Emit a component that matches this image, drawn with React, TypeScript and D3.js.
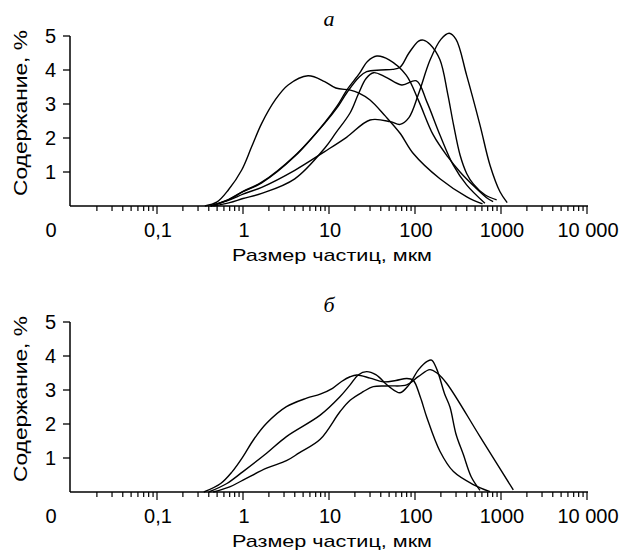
import React, { useEffect, useRef } from "react";
import * as d3 from "d3";

// particle size axis (мкм), log scale
const xDomain = [0.01, 10000];
const xTickValues = [0.01, 0.1, 1, 10, 100, 1000, 10000];
const xTickLabels = ["0", "0,1", "1", "10", "100", "1000", "10 000"];
const yTickValues = [1, 2, 3, 4, 5];

const panelTitles = ["а", "б"];
const xTitle = "Размер частиц, мкм";
const yTitle = "Содержание, %";

// panel а curves: [size, percent]
const a1 = [[0.36, 0], [0.5, 0.12], [0.675, 0.47], [0.966, 1.06], [1.26, 1.74], [1.65, 2.43], [2.37, 3.12], [3.35, 3.56], [5.7, 3.83], [8.9, 3.66], [12, 3.47], [17.7, 3.41], [22, 3.33], [30, 3.12], [45, 2.65], [67, 2.14], [95, 1.55], [195, 0.8], [400, 0.27], [610, 0.06]];
const a2 = [[0.42, 0], [0.675, 0.18], [1.0, 0.42], [1.65, 0.68], [4, 1.46], [8.9, 2.45], [12.5, 2.95], [16.1, 3.41], [22.6, 3.9], [28, 4.25], [36, 4.41], [50, 4.3], [79, 3.85], [110, 3.1], [163, 2.09], [240, 1.45], [334, 1.0], [500, 0.55], [700, 0.22], [810, 0.13]];
const a3 = [[0.42, 0], [0.675, 0.19], [1.0, 0.43], [1.65, 0.7], [4, 1.48], [8.9, 2.43], [12.5, 2.9], [16.1, 3.33], [22.6, 3.8], [27.4, 3.95], [40, 4.0], [55, 4.02], [67, 4.08], [85, 4.5], [110, 4.85], [125, 4.88], [150, 4.75], [195, 4.3], [240, 3.3], [280, 2.4], [334, 1.5], [400, 0.95], [476, 0.65], [650, 0.33], [890, 0.18]];
const a4 = [[0.45, 0], [0.7, 0.1], [1.0, 0.22], [1.65, 0.37], [4, 0.8], [8.9, 1.7], [12, 2.15], [17.7, 2.75], [22, 3.3], [27, 3.75], [33, 3.92], [45, 3.8], [70, 3.56], [104, 3.68], [137, 3.07], [195, 2.09], [279, 1.2], [398, 0.62], [650, 0.08]];
const a5 = [[0.42, 0], [0.7, 0.18], [1.0, 0.35], [1.65, 0.55], [4, 1.05], [8.9, 1.6], [16, 2.02], [30, 2.53], [51.7, 2.48], [67, 2.4], [85, 2.6], [110, 3.3], [150, 4.3], [200, 4.9], [250, 5.08], [300, 4.9], [398, 3.85], [570, 2.38], [745, 1.2], [973, 0.42], [1180, 0.1]];

// panel б curves
const b1 = [[0.35, 0], [0.55, 0.25], [0.75, 0.6], [1.0, 1.04], [1.32, 1.53], [1.88, 2.02], [3.2, 2.51], [5.5, 2.76], [7.9, 2.88], [11, 3.05], [14, 3.25], [17.6, 3.39], [21, 3.44], [30, 3.35], [42.7, 3.24], [60, 3.28], [80, 3.34], [95, 3.29], [115, 2.8], [137, 2.2], [195, 1.2], [280, 0.6], [476, 0.22], [745, 0.01]];
const b2 = [[0.4, 0], [0.65, 0.25], [1.0, 0.6], [1.88, 1.14], [3.2, 1.63], [7.9, 2.26], [13.4, 2.8], [17.6, 3.15], [22, 3.45], [27.4, 3.54], [35, 3.45], [50, 3.1], [67, 2.92], [85, 3.15], [110, 3.6], [140, 3.85], [156, 3.88], [180, 3.6], [220, 2.9], [255, 2.5], [300, 1.7], [365, 1.1], [450, 0.45], [570, 0.05]];
const b3 = [[0.45, 0], [0.7, 0.15], [1.0, 0.35], [1.88, 0.7], [3.2, 0.92], [4.5, 1.15], [7.9, 1.55], [13.4, 2.36], [17.6, 2.7], [25, 2.95], [32.7, 3.1], [50, 3.12], [80, 3.15], [110, 3.4], [149, 3.6], [180, 3.5], [233, 3.2], [570, 1.63], [1390, 0.06]];

const panelCurves = [[a1, a2, a3, a4, a5], [b1, b2, b3]];

export default function App() {
  const ref = useRef(null);

  useEffect(() => {
    const svg = d3.select(ref.current);
    svg.selectAll("*").remove();

    const x = d3.scaleLog().domain(xDomain).range([71, 587]);
    const minorTicks = x.ticks(); // 1..9 in each decade

    panelCurves.forEach((curves, i) => {
      const g = svg.append("g").attr("transform", `translate(0, ${i * 286})`);
      const y = d3.scaleLinear().domain([0, 5]).range([206, 36]);

      // title
      g.append("text")
        .attr("x", 329)
        .attr("y", 26)
        .attr("text-anchor", "middle")
        .attr("font-family", "Liberation Serif, serif")
        .attr("font-style", "italic")
        .attr("font-size", 22)
        .text(panelTitles[i]);

      // y axis
      g.append("line")
        .attr("x1", 70).attr("x2", 70)
        .attr("y1", y(5)).attr("y2", y(0))
        .attr("stroke", "black").attr("stroke-width", 1.5);
      yTickValues.forEach((v) => {
        g.append("line")
          .attr("x1", 63).attr("x2", 70)
          .attr("y1", y(v)).attr("y2", y(v))
          .attr("stroke", "black").attr("stroke-width", 1.3);
        g.append("text")
          .attr("x", 56)
          .attr("y", y(v) + 7)
          .attr("text-anchor", "end")
          .attr("font-family", "Liberation Sans, Arial, sans-serif")
          .attr("font-size", 20)
          .text(v);
      });

      // x axis
      g.append("line")
        .attr("x1", 70).attr("x2", 588)
        .attr("y1", y(0)).attr("y2", y(0))
        .attr("stroke", "black").attr("stroke-width", 1.6);
      minorTicks.forEach((v) => {
        const major = xTickValues.some((t) => Math.abs(t - v) / t < 1e-6);
        if (v === xDomain[0]) return;
        g.append("line")
          .attr("x1", x(v)).attr("x2", x(v))
          .attr("y1", y(0)).attr("y2", y(0) + (major ? 8 : 5))
          .attr("stroke", "black").attr("stroke-width", 1.2);
      });
      xTickValues.forEach((v, k) => {
        g.append("text")
          .attr("x", k === 0 ? x(v) - 20 : x(v) + 1)
          .attr("y", 237)
          .attr("text-anchor", "middle")
          .attr("font-family", "Liberation Sans, Arial, sans-serif")
          .attr("font-size", 20)
          .text(xTickLabels[k]);
      });

      // axis titles
      g.append("text")
        .attr("x", 332)
        .attr("y", 261)
        .attr("text-anchor", "middle")
        .attr("font-family", "Liberation Sans, Arial, sans-serif")
        .attr("font-size", 17)
        .attr("textLength", 200)
        .attr("lengthAdjust", "spacingAndGlyphs")
        .text(xTitle);
      g.append("text")
        .attr("transform", `translate(27, ${113}) rotate(-90)`)
        .attr("text-anchor", "middle")
        .attr("font-family", "Liberation Sans, Arial, sans-serif")
        .attr("font-size", 18)
        .attr("textLength", 166)
        .attr("lengthAdjust", "spacingAndGlyphs")
        .text(yTitle);

      // curves
      const line = d3.line()
        .x((d) => x(d[0]))
        .y((d) => y(d[1]))
        .curve(d3.curveCatmullRom.alpha(0.5));
      g.selectAll(".curve")
        .data(curves)
        .join("path")
        .attr("class", "curve")
        .attr("d", line)
        .attr("fill", "none")
        .attr("stroke", "black")
        .attr("stroke-width", 1.4);
    });
  }, []);

  return (
    <svg
      ref={ref}
      width={621}
      height={552}
      style={{ position: "absolute", left: 0, top: 0, background: "white" }}
    />
  );
}
